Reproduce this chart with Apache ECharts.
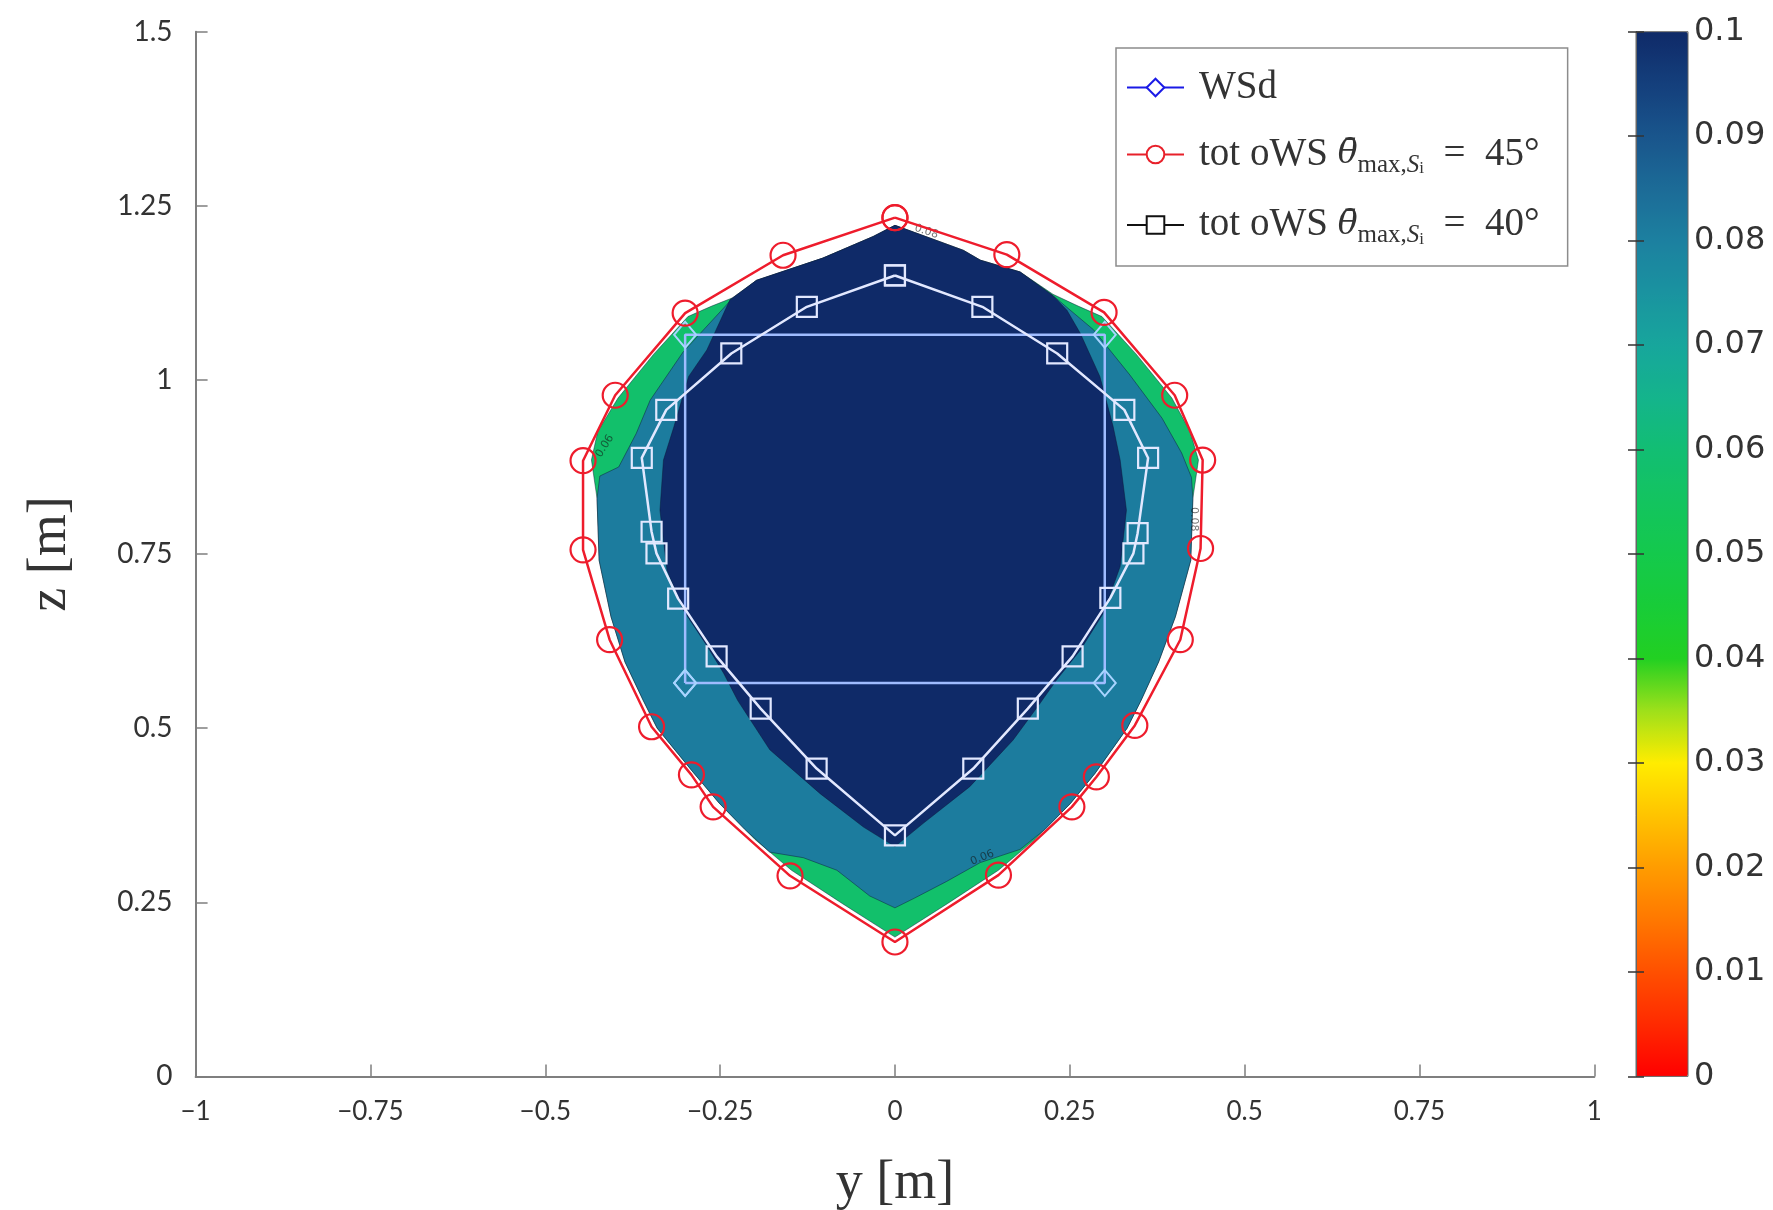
<!DOCTYPE html>
<html>
<head>
<meta charset="utf-8">
<script src="https://cdn.jsdelivr.net/npm/echarts@6/dist/echarts.min.js"></script>
<style>
html,body{margin:0;padding:0;background:#ffffff;}
#chart{width:1773px;height:1210px;}
</style>
</head>
<body>
<div id="chart"></div>
<script>
// ---------- data ----------
const seriesNames = ['WSd', 'tot oWS 45', 'tot oWS 40'];

// desired workspace rectangle (y, z) with diamond corners
const wsdPoints = [[-0.3,0.565],[0.3,0.565],[0.3,1.065],[-0.3,1.065],[-0.3,0.565]];

// total orientation workspace, theta_max = 45 deg (red circles)
const ows45Points = [
  [0,1.233],[0.160,1.180],[0.299,1.097],[0.400,0.978],[0.440,0.885],[0.437,0.758],
  [0.408,0.627],[0.343,0.504],[0.288,0.430],[0.253,0.387],[0.148,0.289],[0,0.193],
  [-0.150,0.288],[-0.260,0.387],[-0.291,0.433],[-0.348,0.502],[-0.408,0.627],
  [-0.446,0.756],[-0.446,0.884],[-0.400,0.978],[-0.300,1.096],[-0.160,1.179],[0,1.233]
];

// total orientation workspace, theta_max = 40 deg (squares)
const ows40Points = [
  [0,1.150],[0.125,1.105],[0.232,1.038],[0.328,0.957],[0.362,0.888],[0.347,0.780],
  [0.341,0.751],[0.308,0.687],[0.254,0.603],[0.190,0.528],[0.112,0.442],[0,0.346],
  [-0.112,0.442],[-0.192,0.528],[-0.255,0.603],[-0.310,0.686],[-0.341,0.751],
  [-0.348,0.782],[-0.362,0.888],[-0.327,0.957],[-0.234,1.038],[-0.126,1.105],[0,1.150]
];

// filled contour bands (level value -> boundary polygon)
const contourLevels = [0.058, 0.081, 0.1];
const contourGreen = [
  [0,1.222],[0.06,1.200],[0.098,1.186],[0.122,1.172],[0.179,1.155],[0.226,1.123],[0.262,1.106],
  [0.296,1.091],[0.345,1.037],[0.396,0.974],[0.422,0.926],[0.434,0.885],[0.426,0.830],[0.423,0.741],
  [0.401,0.660],[0.377,0.595],[0.352,0.540],[0.332,0.500],[0.286,0.435],[0.251,0.392],[0.200,0.340],
  [0.148,0.296],[0.075,0.248],[0,0.200],[-0.075,0.248],[-0.148,0.296],[-0.200,0.340],[-0.251,0.392],
  [-0.288,0.436],[-0.340,0.500],[-0.360,0.540],[-0.386,0.595],[-0.406,0.660],[-0.423,0.741],
  [-0.426,0.830],[-0.434,0.885],[-0.425,0.926],[-0.396,0.974],[-0.345,1.037],[-0.296,1.091],
  [-0.262,1.106],[-0.232,1.118],[-0.198,1.143],[-0.103,1.175],[-0.031,1.206]
];
const contourTeal = [
  [0,1.222],[0.06,1.200],[0.098,1.186],[0.122,1.172],[0.179,1.155],[0.226,1.121],[0.284,1.072],
  [0.336,1.007],[0.382,0.945],[0.410,0.895],[0.424,0.860],[0.426,0.830],[0.423,0.741],[0.401,0.660],
  [0.377,0.595],[0.352,0.540],[0.332,0.500],[0.286,0.435],[0.251,0.392],[0.215,0.355],[0.179,0.326],
  [0.122,0.307],[0.074,0.280],[0.028,0.256],[0,0.242],[-0.036,0.259],[-0.083,0.296],[-0.131,0.314],
  [-0.179,0.322],[-0.215,0.355],[-0.251,0.392],[-0.288,0.436],[-0.340,0.500],[-0.360,0.540],
  [-0.386,0.595],[-0.406,0.660],[-0.423,0.741],[-0.426,0.830],[-0.422,0.862],[-0.395,0.875],
  [-0.370,0.923],[-0.350,0.971],[-0.303,1.040],[-0.236,1.113],[-0.198,1.143],[-0.103,1.175],[-0.031,1.206]
];
const contourNavy = [
  [0,1.222],[0.06,1.200],[0.098,1.186],[0.122,1.172],[0.179,1.155],[0.226,1.121],[0.246,1.100],
  [0.265,1.067],[0.293,1.005],[0.312,0.933],[0.322,0.885],[0.331,0.813],[0.322,0.732],[0.298,0.665],
  [0.265,0.612],[0.231,0.569],[0.207,0.535],[0.169,0.483],[0.107,0.416],[0.040,0.363],[0,0.330],
  [-0.045,0.358],[-0.107,0.406],[-0.179,0.469],[-0.225,0.540],[-0.245,0.579],[-0.268,0.617],
  [-0.303,0.670],[-0.326,0.727],[-0.336,0.813],[-0.331,0.885],[-0.316,0.933],[-0.295,1.005],
  [-0.269,1.043],[-0.236,1.115],[-0.198,1.143],[-0.103,1.175],[-0.031,1.206]
];
const contourPolygons = [contourGreen, contourTeal, contourNavy];

// contour line labels
const contourLabelPos = [[0.428,0.800],[-0.415,0.905],[0.125,0.314],[0.045,1.213]];
const contourLabelText = ['0.08','0.06','0.06','0.08'];
const contourLabelRot = [-90, 58, 22, -18];

// colour bar
const colorbarMin = 0, colorbarMax = 0.1, colorbarStep = 0.01;
const colorbarColors = [
  '#ff0000','#ff2a00','#ff5000','#ff7800','#ff9c00','#ffc400','#ffec00','#9ee01a',
  '#22d022','#18cc38','#14c94c','#13c45f','#12be73','#14b48c','#17a69c','#1a93a0',
  '#1c80a0','#1c6b97','#19558c','#143f7c','#0f2a68'
];

// axes
const yRange = [-1, 1], yStep = 0.25;
const zRange = [0, 1.5], zStep = 0.25;

// ---------- chart ----------
const fmt = v => String(Math.round(v * 100) / 100).replace('-', '\u2212');
const legendText = {
  'WSd': '{n|WSd}',
  'tot oWS 45': '{n|tot oWS }{th|\u03B8\u0304}{s|max,}{si|S}{ss|i}{n|  =  45°}',
  'tot oWS 40': '{n|tot oWS }{th|\u03B8\u0304}{s|max,}{si|S}{ss|i}{n|  =  40°}'
};

const chart = echarts.init(document.getElementById('chart'), null, {renderer: 'canvas'});

const axisGray = '#7f7f7f';
const option = {
  animation: false,
  backgroundColor: '#ffffff',
  grid: [
    {left: 195.6, right: 178.7, top: 31.7, bottom: 133.6, containLabel: false, outerBoundsMode: 'none'},
    {left: 1636, top: 31.7, width: 52, height: 1044.7, show: true, borderColor: '#666', borderWidth: 1,
     backgroundColor: 'transparent', z: 10, containLabel: false, outerBoundsMode: 'none'}
  ],
  xAxis: [
    {
      type: 'value', gridIndex: 0, min: yRange[0], max: yRange[1], interval: yStep,
      name: 'y [m]', nameLocation: 'middle', nameGap: 80,
      nameTextStyle: {fontFamily: 'Liberation Serif', fontSize: 54, color: '#333'},
      axisLine: {show: true, onZero: false, lineStyle: {color: axisGray, width: 2}},
      axisTick: {show: true, inside: true, length: 12, lineStyle: {color: axisGray, width: 1.5}},
      axisLabel: {fontFamily: 'Lato', fontSize: 26, color: '#333', margin: 22, formatter: fmt},
      splitLine: {show: false}
    },
    {type: 'value', gridIndex: 1, min: 0, max: 1, show: false}
  ],
  yAxis: [
    {
      type: 'value', gridIndex: 0, min: zRange[0], max: zRange[1], interval: zStep,
      name: 'z [m]', nameLocation: 'middle', nameGap: 118, nameRotate: 90,
      nameTextStyle: {fontFamily: 'Liberation Serif', fontSize: 54, color: '#333'},
      axisLine: {show: true, onZero: false, lineStyle: {color: axisGray, width: 2}},
      axisTick: {show: true, inside: true, length: 12, lineStyle: {color: axisGray, width: 1.5}},
      axisLabel: {fontFamily: 'Lato', fontSize: 28, color: '#333', margin: 23, formatter: fmt},
      splitLine: {show: false}
    },
    {
      type: 'value', gridIndex: 1, position: 'right', min: colorbarMin, max: colorbarMax, interval: colorbarStep, z: 10,
      axisLine: {show: true, lineStyle: {color: '#666', width: 1}},
      axisTick: {show: true, inside: true, length: 8, lineStyle: {color: '#333', width: 1.5}},
      axisLabel: {fontFamily: 'DejaVu Sans', fontSize: 32, color: '#333', margin: 6,
                  formatter: v => String(Math.round(v * 100) / 100)},
      splitLine: {show: false}
    },
    {
      type: 'value', gridIndex: 1, position: 'left', min: colorbarMin, max: colorbarMax, interval: colorbarStep, z: 10,
      axisLine: {show: true, lineStyle: {color: '#666', width: 1}},
      axisTick: {show: true, inside: true, length: 8, lineStyle: {color: '#333', width: 1.5}},
      axisLabel: {show: false}, splitLine: {show: false}
    }
  ],
  visualMap: {
    type: 'continuous', min: colorbarMin, max: colorbarMax, dimension: 0, seriesIndex: 0,
    inRange: {color: colorbarColors},
    orient: 'vertical', left: 1636, top: 31.7, itemWidth: 52, itemHeight: 1044.7,
    padding: 0, calculable: false, text: null, hoverLink: false
  },
  legend: {
    orient: 'vertical', left: 1116, top: 48,
    padding: [20, 28, 18, 10],
    itemWidth: 57, itemHeight: 22, itemGap: 28,
    backgroundColor: '#ffffff', borderColor: '#8c8c8c', borderWidth: 1.5,
    selectedMode: false,
    data: [
      {name: seriesNames[0], itemStyle: {color: '#ffffff', borderColor: '#1a1ae6', borderWidth: 2}, lineStyle: {color: '#1a1ae6', width: 2}},
      {name: seriesNames[1], itemStyle: {color: '#ffffff', borderColor: '#e8202a', borderWidth: 2}, lineStyle: {color: '#e8202a', width: 2}},
      {name: seriesNames[2], itemStyle: {color: '#ffffff', borderColor: '#111111', borderWidth: 2}, lineStyle: {color: '#111111', width: 2}}
    ],
    formatter: name => legendText[name],
    textStyle: {
      fontFamily: 'Liberation Serif', fontSize: 39, color: '#333', padding: [0, 0, 0, 10],
      rich: {
        n: {fontFamily: 'Liberation Serif', fontSize: 39, color: '#333', lineHeight: 46, verticalAlign: 'middle'},
        th: {fontFamily: 'DejaVu Serif', fontStyle: 'italic', fontSize: 33, color: '#333', lineHeight: 46, verticalAlign: 'middle'},
        s: {fontFamily: 'Liberation Serif', fontSize: 25, color: '#333', lineHeight: 20, verticalAlign: 'bottom'},
        si: {fontFamily: 'Liberation Serif', fontStyle: 'italic', fontSize: 25, color: '#333', lineHeight: 20, verticalAlign: 'bottom'},
        ss: {fontFamily: 'Liberation Serif', fontSize: 17, color: '#333', lineHeight: 10, verticalAlign: 'bottom'}
      }
    }
  },
  series: [
    {
      type: 'custom', name: 'contour', coordinateSystem: 'cartesian2d', xAxisIndex: 0, yAxisIndex: 0,
      data: contourLevels.map((v, i) => [v, i]),
      encode: {x: 0, y: 1},
      z: 1, silent: true,
      renderItem: (params, api) => {
        const poly = contourPolygons[params.dataIndex];
        return {
          type: 'polygon',
          shape: {points: poly.map(p => api.coord(p))},
          style: {fill: api.visual('color'), stroke: 'rgba(10,20,50,0.45)', lineWidth: 1}
        };
      }
    },
    {
      type: 'line', name: seriesNames[0], xAxisIndex: 0, yAxisIndex: 0, data: wsdPoints, z: 3,
      symbol: 'diamond', symbolSize: [22, 26], showAllSymbol: true,
      lineStyle: {color: '#9fbcff', width: 2.5},
      itemStyle: {color: 'rgba(0,0,0,0)', borderColor: '#a8d4ff', borderWidth: 2}
    },
    {
      type: 'line', name: seriesNames[2], xAxisIndex: 0, yAxisIndex: 0, data: ows40Points, z: 4,
      symbol: 'rect', symbolSize: 20, showAllSymbol: true,
      lineStyle: {color: '#e2e8ff', width: 2.5},
      itemStyle: {color: 'rgba(0,0,0,0)', borderColor: '#e2e8ff', borderWidth: 2.2}
    },
    {
      type: 'line', name: seriesNames[1], xAxisIndex: 0, yAxisIndex: 0, data: ows45Points, z: 5,
      symbol: 'circle', symbolSize: 25, showAllSymbol: true,
      lineStyle: {color: '#ee1c2c', width: 2.5},
      itemStyle: {color: 'rgba(0,0,0,0)', borderColor: '#ee1c2c', borderWidth: 2.2}
    },
    {
      type: 'scatter', name: 'contour labels', xAxisIndex: 0, yAxisIndex: 0, z: 2, silent: true,
      symbolSize: 0,
      data: contourLabelPos.map((p, i) => ({
        value: p,
        label: {show: true, position: 'inside', formatter: contourLabelText[i], rotate: contourLabelRot[i],
                fontFamily: 'DejaVu Sans', fontSize: 11, color: 'rgba(20,20,20,0.75)'}
      }))
    }
  ]
};
chart.setOption(option);
</script>
</body>
</html>
